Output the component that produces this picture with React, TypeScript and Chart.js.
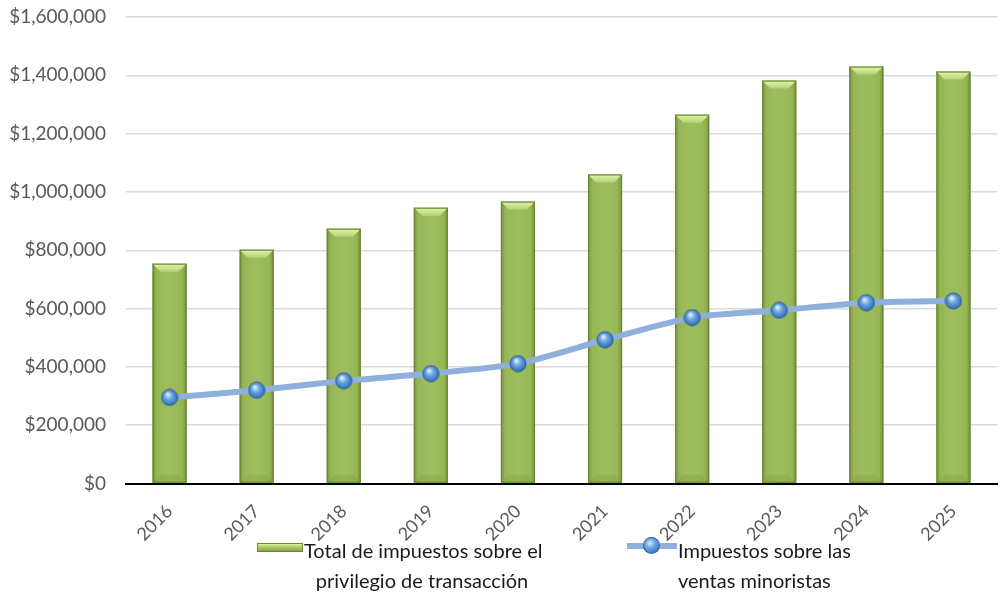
import React, { useEffect, useRef } from "react";
import { Chart, registerables } from "chart.js";

Chart.register(...registerables);

const categories = ["2016", "2017", "2018", "2019", "2020", "2021", "2022", "2023", "2024", "2025"];
const totalPrivilegeTax = [754000, 802000, 874000, 946000, 967000, 1060000, 1265000, 1382000, 1430000, 1413000];
const retailSalesTax = [295000, 320000, 352000, 377000, 411000, 493000, 569000, 594000, 620000, 626000];
const yTickMin = 0;
const yTickMax = 1600000;
const yTickStep = 200000;
const legendLabels = [
  ["Total de impuestos sobre el", "privilegio de transacción"],
  ["Impuestos sobre las", "ventas minoristas"],
];

const FONT = "Lato, 'Open Sans', sans-serif";
const CANVAS_W = 1012;
const CANVAS_H = 545;

function makeSphere(size: number): HTMLCanvasElement {
  const c = document.createElement("canvas");
  c.width = size;
  c.height = size;
  const g = c.getContext("2d")!;
  const r = size / 2;
  const grad = g.createRadialGradient(r * 0.8, r * 0.65, 1, r, r, r);
  grad.addColorStop(0, "#d6ecff");
  grad.addColorStop(0.35, "#6fa8e6");
  grad.addColorStop(0.8, "#3a78c2");
  grad.addColorStop(1, "#2a5c9a");
  g.beginPath();
  g.arc(r, r, r - 0.8, 0, Math.PI * 2);
  g.fillStyle = grad;
  g.fill();
  g.lineWidth = 0.8;
  g.strokeStyle = "rgba(40,80,130,0.7)";
  g.stroke();
  return c;
}

const bevelPlugin = {
  id: "bevelBars",
  afterDatasetDraw(chart: any, args: any) {
    if (args.index !== 0) return;
    const ctx = chart.ctx;
    const meta = chart.getDatasetMeta(0);
    ctx.save();
    meta.data.forEach((bar: any) => {
      const w = bar.width;
      const l = bar.x - w / 2;
      const r = bar.x + w / 2;
      const t = bar.y;
      const b = bar.base;
      const bev = Math.min(8, w / 4);
      const hg = ctx.createLinearGradient(l, 0, r, 0);
      hg.addColorStop(0, "rgba(60,80,20,0.35)");
      hg.addColorStop(0.12, "rgba(60,80,20,0.05)");
      hg.addColorStop(0.5, "rgba(255,255,255,0.03)");
      hg.addColorStop(0.88, "rgba(60,80,20,0.05)");
      hg.addColorStop(1, "rgba(60,80,20,0.4)");
      ctx.fillStyle = hg;
      ctx.fillRect(l, t, w, b - t);
      const tg = ctx.createLinearGradient(0, t, 0, t + bev);
      tg.addColorStop(0, "#e2f5b0");
      tg.addColorStop(1, "#b5d275");
      ctx.beginPath();
      ctx.moveTo(l, t);
      ctx.lineTo(r, t);
      ctx.lineTo(r - bev, t + bev);
      ctx.lineTo(l + bev, t + bev);
      ctx.closePath();
      ctx.fillStyle = tg;
      ctx.fill();
      ctx.beginPath();
      ctx.moveTo(l, b);
      ctx.lineTo(r, b);
      ctx.lineTo(r - bev, b - bev);
      ctx.lineTo(l + bev, b - bev);
      ctx.closePath();
      ctx.fillStyle = "rgba(80,100,30,0.1)";
      ctx.fill();
      ctx.lineWidth = 1.2;
      ctx.strokeStyle = "#6a8636";
      ctx.strokeRect(l + 0.5, t + 0.5, w - 1, b - t - 1);
    });
    ctx.restore();
  },
};

export default function App() {
  const canvasRef = useRef<HTMLCanvasElement | null>(null);

  useEffect(() => {
    document.body.style.margin = "0";
    document.body.style.overflow = "hidden";
    const canvas = canvasRef.current!;
    const sphere = makeSphere(18);
    const chart = new Chart(canvas, {
      type: "bar",
      data: {
        labels: categories,
        datasets: [
          {
            type: "bar",
            label: legendLabels[0].join(" "),
            data: totalPrivilegeTax,
            backgroundColor: "#9bbb59",
            borderWidth: 0,
            barPercentage: 0.39,
            categoryPercentage: 1,
            order: 2,
          } as any,
          {
            type: "line",
            label: legendLabels[1].join(" "),
            data: retailSalesTax,
            borderColor: "#8fb0da",
            borderWidth: 6,
            tension: 0.25,
            pointStyle: sphere,
            pointRadius: 9,
            order: 1,
          } as any,
        ],
      },
      options: {
        responsive: false,
        animation: false,
        devicePixelRatio: 1,
        layout: { padding: { top: 17, right: 2, left: 0, bottom: 0 } },
        plugins: {
          legend: { display: false },
          tooltip: { enabled: false },
        },
        scales: {
          x: {
            offset: true,
            grid: { display: false, drawTicks: false },
            border: { display: true, color: "#000000", width: 2 },
            ticks: {
              autoSkip: false,
              minRotation: 45,
              maxRotation: 45,
              padding: 17,
              color: "#595959",
              font: { family: FONT, size: 18 },
            },
            afterFit: (s: any) => {
              s.height = CANVAS_H - 483.5;
            },
          },
          y: {
            min: yTickMin,
            max: yTickMax,
            grid: { color: "#dadada", lineWidth: 1.5, drawTicks: false },
            border: { display: false },
            ticks: {
              stepSize: yTickStep,
              padding: 20,
              color: "#595959",
              font: { family: FONT, size: 19 },
              callback: (v: any) => "$" + Number(v).toLocaleString("en-US"),
            },
            afterFit: (s: any) => {
              s.width = 126;
              s.paddingTop = 0;
              s.paddingBottom = 0;
            },
          },
        },
      },
      plugins: [bevelPlugin],
    });
    return () => chart.destroy();
  }, []);

  const textStyle: React.CSSProperties = {
    position: "absolute",
    fontFamily: FONT,
    fontSize: 20,
    lineHeight: "30px",
    color: "#1a1a1a",
    whiteSpace: "nowrap",
  };

  return (
    <div
      style={{
        position: "fixed",
        left: 0,
        top: 0,
        width: 1000,
        height: 616,
        overflow: "hidden",
        background: "#ffffff",
      }}
    >
      <canvas
        ref={canvasRef}
        width={CANVAS_W}
        height={CANVAS_H}
        style={{ position: "absolute", left: 0, top: 0, width: CANVAS_W, height: CANVAS_H }}
      />
      <div
        style={{
          position: "absolute",
          left: 257,
          top: 543,
          width: 46,
          height: 9,
          boxSizing: "border-box",
          border: "1px solid #6a8636",
          background: "linear-gradient(to bottom, #dff2ae 0%, #b2d06e 35%, #9bbb59 70%, #86a54a 100%)",
        }}
      />
      <div style={{ ...textStyle, left: 304, top: 535, width: 236, textAlign: "center" }}>
        {legendLabels[0][0]}
        <br />
        {legendLabels[0][1]}
      </div>
      <div
        style={{
          position: "absolute",
          left: 627,
          top: 543,
          width: 50,
          height: 6,
          background: "#8fb0da",
        }}
      />
      <div
        style={{
          position: "absolute",
          left: 643,
          top: 537,
          width: 17,
          height: 17,
          borderRadius: "50%",
          boxSizing: "border-box",
          border: "1px solid rgba(40,80,130,0.7)",
          background: "radial-gradient(circle at 40% 35%, #d6ecff 0%, #6fa8e6 35%, #3a78c2 80%, #2a5c9a 100%)",
        }}
      />
      <div style={{ ...textStyle, left: 678, top: 535, textAlign: "left" }}>
        {legendLabels[1][0]}
        <br />
        {legendLabels[1][1]}
      </div>
    </div>
  );
}
